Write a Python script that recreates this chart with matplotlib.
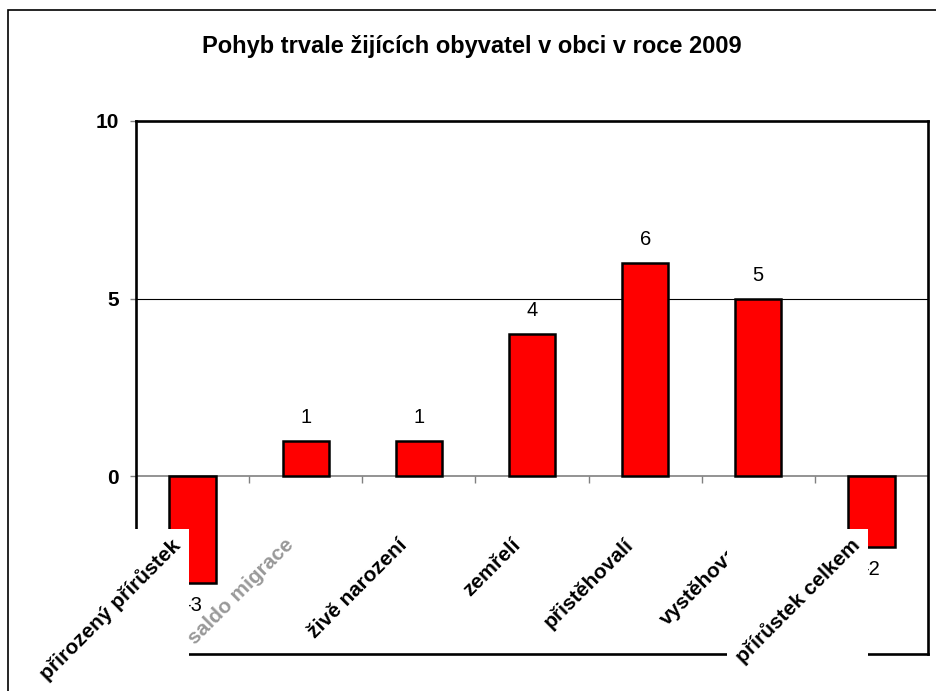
# Graf: pohyb obyvatel v obci

import matplotlib
matplotlib.use("Agg")
import matplotlib.pyplot as plt
from matplotlib.patches import Rectangle

plt.rcParams["font.family"] = ["Liberation Sans", "DejaVu Sans"]

# Data
kategorie = ["přirozený přírůstek", "saldo migrace", "živě narození", "zemřelí",
             "přistěhovalí", "vystěhovalí", "přírůstek celkem"]
hodnoty = [-3, 1, 1, 4, 6, 5, -2]
barvy_popisku = ["black", "#999999", "black", "black", "black", "black", "black"]
titulek = "Pohyb trvale žijících obyvatel v obci v roce 2009"

fig = plt.figure(figsize=(9.37, 6.91), dpi=100)
ax = fig.add_axes([136 / 937, 37 / 691, 792 / 937, 533 / 691])

x = list(range(len(hodnoty)))
ax.bar(x, hodnoty, width=0.41, color="#ff0000", edgecolor="black", linewidth=1.8, zorder=3)

# Popisky hodnot
for xi, v in zip(x, hodnoty):
    off = 17 if v >= 0 else -16
    ax.annotate(str(v), (xi, v), xytext=(0, off), textcoords="offset points",
                ha="center", va="center", fontsize=14.5)

ax.set_xlim(-0.5, len(hodnoty) - 0.5)
ax.set_ylim(-5, 10)
ax.set_yticks([-5, 0, 5, 10])
ax.set_yticklabels(["-5", "0", "5", "10"], fontsize=15, fontweight="bold")
ax.tick_params(axis="y", length=4.5, width=1, color="#808080", pad=8)
ax.set_xticks([])

# Mřížka a osa kategorií v nule
ax.axhline(5, color="black", linewidth=0.8, zorder=1)
ax.axhline(0, color="#808080", linewidth=1.2, zorder=2)
ax.vlines([i + 0.5 for i in range(-1, len(hodnoty))], -0.2, 0, color="#808080", linewidth=1, zorder=2)

for s in ax.spines.values():
    s.set_linewidth(1.9)
    s.set_color("black")

fig.text(472 / 937, 1 - 47 / 691, titulek, ha="center", va="center", fontsize=17, fontweight="bold")

# Vnější rámeček (oříznutý)
fig.add_artist(Rectangle((8 / 937, -0.05), 1.1, 1 - 10 / 691 + 0.05, transform=fig.transFigure,
                         fill=False, edgecolor="black", linewidth=1.2, zorder=0.5))

# Popisky kategorií, krajní dva mají bílé pozadí (jako v Excelu)
texty = []
for i, (k, c) in enumerate(zip(kategorie, barvy_popisku)):
    t = fig.text(i - 0.07, -1.65, k, transform=ax.transData, rotation=45, ha="right", va="top",
                 fontsize=15, fontweight="bold", color=c, zorder=11 + 2 * i)
    texty.append(t)

fig.canvas.draw()
r = fig.canvas.get_renderer()
inv = fig.transFigure.inverted()
for i in [0, len(texty) - 1]:
    bb = texty[i].get_window_extent(r)
    (x0, y0), (x1, y1) = inv.transform([(bb.x0 - 4, bb.y0 - 30), (bb.x1 + 4, bb.y1 + 6)])
    fig.add_artist(Rectangle((x0, y0), x1 - x0, y1 - y0, transform=fig.transFigure,
                             facecolor="white", edgecolor="none", zorder=10 + 2 * i))

fig.savefig("out.png", dpi=100)
